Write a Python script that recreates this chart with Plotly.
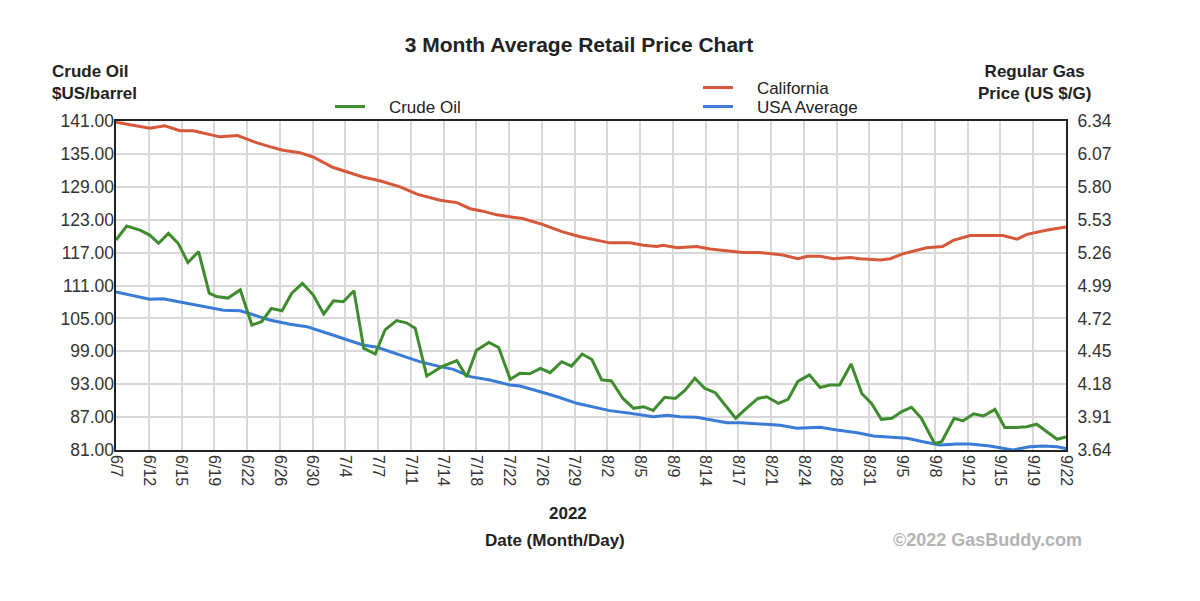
import numpy as np
import plotly.graph_objects as go

# ---------------- data ----------------
tick_labels = ["6/7", "6/12", "6/15", "6/19", "6/22", "6/26", "6/30", "7/4", "7/7", "7/11",
               "7/14", "7/18", "7/22", "7/26", "7/29", "8/2", "8/5", "8/9", "8/14", "8/17",
               "8/21", "8/24", "8/28", "8/31", "9/5", "9/8", "9/12", "9/15", "9/19", "9/22"]
span_days = 107  # 6/7 -> 9/22

crude_day = [0, 1.2, 2.7, 3.8, 4.8, 5.9, 7.0, 8.1, 9.3, 10.5,
             11.3, 12.6, 14.0, 15.3, 16.4, 17.5, 18.7, 19.8, 21.0, 22.2,
             23.4, 24.5, 25.6, 26.8, 27.9, 29.2, 30.3, 31.6, 32.7, 33.7,
             35.0, 36.7, 38.4, 39.5, 40.6, 42.0, 43.1, 44.4, 45.5, 46.6,
             47.8, 48.9, 50.2, 51.3, 52.5, 53.6, 54.7, 55.8, 57.1, 58.3,
             59.4, 60.5, 61.8, 63.0, 64.1, 65.2, 66.3, 67.5, 68.6, 69.8,
             71.0, 72.3, 73.3, 74.6, 75.7, 76.8, 78.1, 79.3, 80.4, 81.5,
             82.8, 84.0, 85.1, 86.2, 87.4, 88.5, 89.6, 90.7, 92.2, 93.0,
             94.4, 95.4, 96.6, 97.7, 99.0, 100.1, 101.4, 102.6, 103.7, 104.8,
             106.0, 107.0]
crude_price = [119.3, 121.85, 121.1, 120.2, 118.7, 120.5, 118.7, 115.2, 117.2, 109.6,
               109.0, 108.7, 110.2, 103.8, 104.4, 106.8, 106.4, 109.6, 111.4, 109.3,
               105.8, 108.2, 108.05, 110.05, 99.55, 98.5, 102.9, 104.6, 104.2, 103.2,
               94.5, 96.2, 97.3, 94.3, 99.2, 100.6, 99.7, 93.9, 95.0, 94.9,
               95.9, 95.1, 97.1, 96.3, 98.5, 97.5, 93.8, 93.6, 90.4, 88.6,
               88.9, 88.2, 90.6, 90.4, 91.9, 94.1, 92.25, 91.45, 89.2, 86.8,
               88.6, 90.4, 90.7, 89.5, 90.25, 93.5, 94.7, 92.4, 92.85, 92.85,
               96.7, 91.3, 89.5, 86.6, 86.8, 88.0, 88.8, 86.8, 82.2, 82.5,
               86.8, 86.3, 87.6, 87.2, 88.4, 85.1, 85.1, 85.25, 85.7, 84.3,
               82.95, 83.4]

ca_day = [0, 3.8, 5.5, 7.2, 8.7, 9.8, 11.7, 13.7, 15.9, 17.3,
          18.8, 20.7, 22.2, 24.4, 26.4, 27.8, 29.7, 32.0, 33.9, 36.5,
          38.4, 39.9, 41.3, 42.9, 44.7, 45.8, 48.1, 50.3, 52.3, 54.2,
          55.6, 57.9, 59.4, 60.9, 61.6, 63.2, 65.4, 66.9, 69.2, 70.6,
          72.5, 73.7, 75.1, 76.8, 77.9, 79.3, 80.8, 82.7, 83.8, 86.1,
          87.2, 88.6, 90.2, 91.3, 93.1, 94.3, 96.2, 97.7, 99.9, 101.5,
          102.6, 104.9, 107.0]
ca_price = [6.33, 6.28, 6.30, 6.26, 6.26, 6.24, 6.21, 6.22, 6.16, 6.13,
            6.10, 6.08, 6.045, 5.96, 5.91, 5.88, 5.85, 5.80, 5.74, 5.69,
            5.67, 5.62, 5.60, 5.57, 5.55, 5.54, 5.49, 5.43, 5.39, 5.36,
            5.34, 5.34, 5.32, 5.31, 5.32, 5.30, 5.31, 5.29, 5.27, 5.26,
            5.26, 5.25, 5.24, 5.21, 5.23, 5.23, 5.21, 5.22, 5.21, 5.20,
            5.21, 5.25, 5.28, 5.30, 5.31, 5.36, 5.40, 5.40, 5.40, 5.37,
            5.41, 5.445, 5.47]

us_day = [0, 3.8, 5.3, 8.0, 10.6, 12.1, 14.0, 15.1, 17.3, 19.6,
          21.5, 23.8, 26.4, 27.8, 29.4, 32.0, 34.2, 36.5, 38.0, 39.9,
          42.1, 44.4, 45.5, 47.8, 49.7, 51.9, 53.4, 55.6, 57.9, 60.5,
          62.1, 63.5, 65.4, 67.2, 68.8, 70.3, 72.5, 74.8, 76.7, 78.2,
          79.3, 81.2, 83.5, 85.3, 87.5, 89.1, 90.9, 92.8, 94.7, 96.2,
          98.4, 101.0, 102.9, 104.4, 106.0, 107.0]
us_price = [4.937, 4.877, 4.882, 4.844, 4.803, 4.787, 4.783, 4.756, 4.707, 4.672,
            4.652, 4.598, 4.535, 4.502, 4.483, 4.420, 4.365, 4.324, 4.302, 4.242,
            4.214, 4.173, 4.165, 4.118, 4.077, 4.023, 4.001, 3.963, 3.941, 3.913,
            3.925, 3.913, 3.908, 3.886, 3.864, 3.864, 3.853, 3.843, 3.818, 3.826,
            3.826, 3.804, 3.782, 3.755, 3.744, 3.736, 3.708, 3.681, 3.689, 3.689,
            3.673, 3.640, 3.667, 3.673, 3.667, 3.651]

crude_ticks = [81, 87, 93, 99, 105, 111, 117, 123, 129, 135, 141]
gas_ticks = [3.64, 3.91, 4.18, 4.45, 4.72, 4.99, 5.26, 5.53, 5.80, 6.07, 6.34]

# ---------------- styling ----------------
FONT = "Liberation Sans, Arial, sans-serif"
TXT = "#222222"
GREEN = "#3f8c2f"
RED = "#d6573a"
BLUE = "#3b7bd8"
GRID = "#d8d8d8"
GAP = "\u00a0\u00a0\u00a0\u00a0"

fig = go.Figure()

fig.add_trace(go.Scatter(x=ca_day, y=ca_price, name=GAP + "California", mode="lines",
                         line=dict(color=RED, width=3), yaxis="y", legend="legend2"))
fig.add_trace(go.Scatter(x=us_day, y=us_price, name=GAP + "USA Average", mode="lines",
                         line=dict(color=BLUE, width=3), yaxis="y", legend="legend3"))
fig.add_trace(go.Scatter(x=crude_day, y=crude_price, name=GAP + "Crude Oil", mode="lines",
                         line=dict(color=GREEN, width=3), yaxis="y2", legend="legend"))

tickvals_x = list(np.linspace(0, span_days, len(tick_labels)))


def leg(px_x, px_top):
    return dict(x=(px_x - 116) / 950, xanchor="left", y=(450 - px_top) / 329, yanchor="top",
                bgcolor="rgba(0,0,0,0)", font=dict(size=17, color=TXT), itemwidth=30)


fig.update_layout(
    width=1200, height=601,
    margin=dict(l=116, r=134, t=121, b=151),
    paper_bgcolor="white", plot_bgcolor="white",
    font=dict(family=FONT, size=16, color=TXT),
    title=dict(text="<b>3 Month Average Retail Price Chart</b>", x=579 / 1200, xanchor="center",
               y=1 - 45 / 601, yanchor="middle", font=dict(size=21, color=TXT, family=FONT)),
    xaxis=dict(range=[0, span_days], tickmode="array", tickvals=tickvals_x, ticktext=tick_labels,
               tickangle=90, showgrid=True, gridcolor=GRID, gridwidth=1.5,
               showline=True, linecolor="#222222", linewidth=1.8, mirror=True,
               ticks="", zeroline=False, tickfont=dict(size=16, color="#333333")),
    yaxis=dict(range=[3.64, 6.34], tickmode="array", tickvals=gas_ticks,
               ticktext=[f"{v:.2f}" for v in gas_ticks], side="right",
               showgrid=True, gridcolor=GRID, gridwidth=1.5, zeroline=False,
               showline=True, linecolor="#222222", linewidth=1.8, mirror=True,
               ticks="", ticklabelstandoff=6, tickfont=dict(size=17.5, color="#333333")),
    yaxis2=dict(range=[81, 141], tickmode="array", tickvals=crude_ticks,
                ticktext=[f"{v:.2f}" for v in crude_ticks], side="left", overlaying="y",
                showgrid=False, zeroline=False, ticks="", ticklabelstandoff=1,
                tickfont=dict(size=17.5, color="#333333")),
    legend=leg(330, 89),
    legend2=leg(698, 70),
    legend3=leg(698, 89),
    showlegend=True,
)

ann = [
    dict(text="<b>Crude Oil<br>$US/barrel</b>", x=(50 - 116) / 950, y=(450 - 83) / 329,
         xanchor="left", yanchor="middle", align="left", font=dict(size=17)),
    dict(text="<b>Regular Gas<br>Price (US $/G)</b>", x=(1093 - 116) / 950, y=(450 - 83) / 329,
         xanchor="right", yanchor="middle", align="center", font=dict(size=17)),
    dict(text="<b>2022</b>", x=(568 - 116) / 950, y=(450 - 513) / 329,
         xanchor="center", yanchor="middle", font=dict(size=17)),
    dict(text="<b>Date (Month/Day)</b>", x=(555 - 116) / 950, y=(450 - 540) / 329,
         xanchor="center", yanchor="middle", font=dict(size=17)),
    dict(text="<b>©2022 GasBuddy.com</b>", x=(1084 - 116) / 950, y=(450 - 540) / 329,
         xanchor="right", yanchor="middle", font=dict(size=18, color="#b3b3b3")),
]
for a in ann:
    a.update(xref="paper", yref="paper", showarrow=False)
    a["font"].setdefault("color", TXT)
    a["font"]["family"] = FONT
fig.update_layout(annotations=ann)

fig.write_html("out.html")
